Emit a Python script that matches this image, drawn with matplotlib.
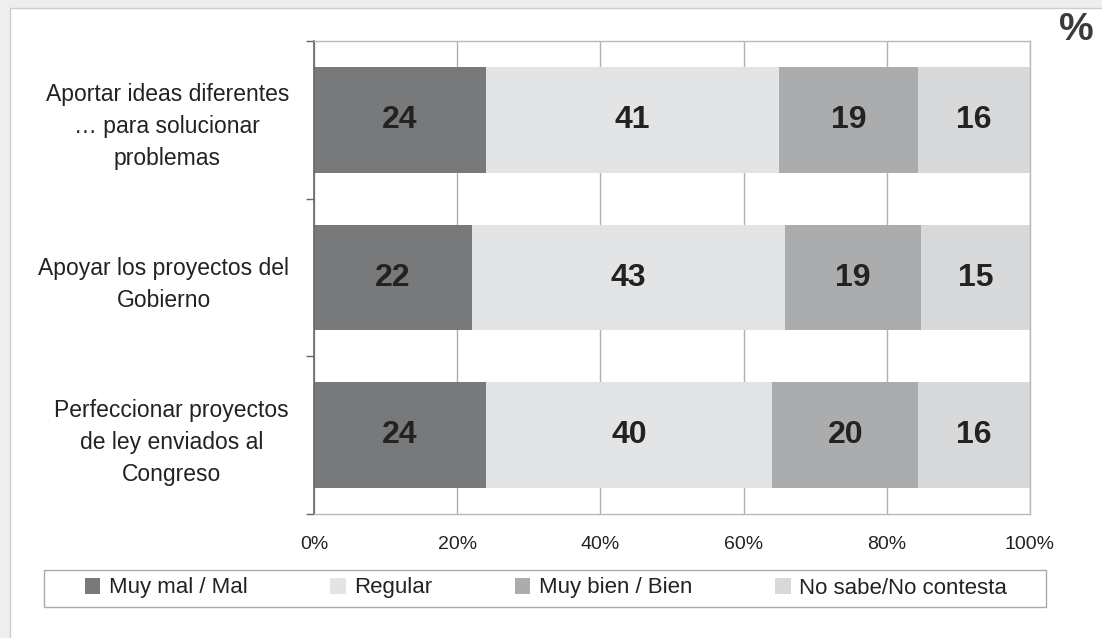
import matplotlib
matplotlib.use("Agg")
import matplotlib.pyplot as plt
from matplotlib.patches import Rectangle, Patch
import numpy as np

plt.rcParams['font.family'] = ['Liberation Sans', 'DejaVu Sans']

categories = [
    "Aportar ideas diferentes\n… para solucionar\nproblemas",
    "Apoyar los proyectos del\nGobierno",
    "Perfeccionar proyectos\nde ley enviados al\nCongreso",
]
series_names = ["Muy mal / Mal", "Regular", "Muy bien / Bien", "No sabe/No contesta"]
# bar widths (percent)
muy_mal = [24.0, 22.1, 24.0]
regular = [40.9, 43.7, 40.0]
muy_bien = [19.5, 19.0, 20.4]
no_sabe = [15.6, 15.2, 15.6]
# printed labels
muy_mal_lbl = ["24", "22", "24"]
regular_lbl = ["41", "43", "40"]
muy_bien_lbl = ["19", "19", "20"]
no_sabe_lbl = ["16", "15", "16"]
xtick_values = [0, 20, 40, 60, 80, 100]
xtick_labels = ["0%", "20%", "40%", "60%", "80%", "100%"]

series = [muy_mal, regular, muy_bien, no_sabe]
series_lbl = [muy_mal_lbl, regular_lbl, muy_bien_lbl, no_sabe_lbl]
colors = ["#78797b", "#e3e4e6", "#abacae", "#d8d9db"]

W, H = 1102, 638
fig = plt.figure(figsize=(W / 100, H / 100), dpi=100, facecolor="#eeeeee")
bg = Rectangle((10 / W, -0.01), 1.0, 1 - 8 / H + 0.01, transform=fig.transFigure,
               facecolor="white", edgecolor="#cccccc", linewidth=1.0, zorder=-10)
fig.add_artist(bg)

ax = fig.add_axes([314 / W, 1 - 514 / H, (1030 - 314) / W, (514 - 41) / H])
ax.set_facecolor("white")

y = np.arange(len(categories))
left = np.zeros(len(categories))
for name, vals, lbls, c in zip(series_names, series, series_lbl, colors):
    bars = ax.barh(y, vals, left=left, height=0.67, color=c, label=name, zorder=2)
    ax.bar_label(bars, labels=lbls, label_type="center",
                 fontsize=23, fontweight="bold", color="#222222")
    left += np.array(vals)

ax.set_xlim(0, 100)
ax.set_ylim(len(categories) - 0.5, -0.5)
ax.set_xticks(xtick_values)
ax.set_xticklabels(xtick_labels, fontsize=14, color="#222222")
ax.tick_params(axis="x", length=0, pad=16)
ax.xaxis.grid(True, color="#b0b0b0", linewidth=1.0, zorder=0)
ax.set_axisbelow(True)

ax.set_yticks(y)
ax.set_yticklabels(categories, fontsize=16.5, color="#222222",
                   multialignment="center", linespacing=1.5)
ax.tick_params(axis="y", which="major", length=0, pad=18)
ax.set_yticks(np.arange(-0.5, len(categories), 1.0), minor=True)
ax.tick_params(axis="y", which="minor", length=6, color="#666666", width=1)

ax.spines["left"].set_color("#666666")
ax.spines["left"].set_linewidth(1.2)
for s in ["top", "right", "bottom"]:
    ax.spines[s].set_color("#b8b8b8")
    ax.spines[s].set_linewidth(1.0)

fig.text(1076 / W, 1 - 30 / H, "%", fontsize=28, fontweight="bold", color="#3a3a3a",
         ha="center", va="center")

# legend frame
fig.add_artist(Rectangle((44 / W, 1 - 607 / H), (1046 - 44) / W, 37 / H,
                         transform=fig.transFigure, facecolor="white",
                         edgecolor="#aaaaaa", linewidth=1.0, zorder=1))
handles = [Patch(facecolor=c, edgecolor="none") for c in colors]
leg = fig.legend(handles, series_names, ncol=4, loc="center",
                 bbox_to_anchor=(546 / W, 1 - 588 / H),
                 fontsize=16, frameon=False, handlelength=0.7,
                 handleheight=0.7, handletextpad=0.4, columnspacing=3.7,
                 borderaxespad=0, borderpad=0)
leg.set_zorder(2)
for t in leg.get_texts():
    t.set_color("#222222")

fig.savefig("out.png", dpi=100, facecolor=fig.get_facecolor())
